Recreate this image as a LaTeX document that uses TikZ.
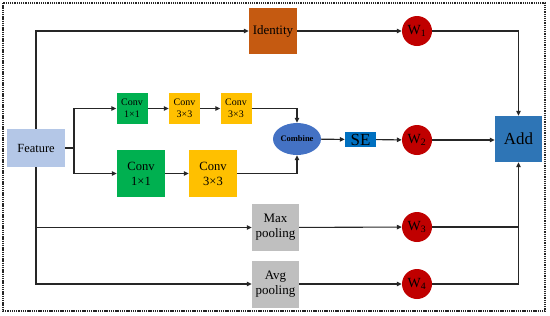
\documentclass[tikz,border=0pt]{standalone}
\usepackage{fontspec}
\setmainfont{Liberation Serif}
\usetikzlibrary{arrows.meta,shapes.geometric}
\definecolor{featc}{HTML}{B4C7E7}
\definecolor{idenc}{HTML}{C55A11}
\definecolor{greenc}{HTML}{00B050}
\definecolor{yelc}{HTML}{FFC000}
\definecolor{combc}{HTML}{4472C4}
\definecolor{sec}{HTML}{0070C0}
\definecolor{wc}{HTML}{C00000}
\definecolor{addc}{HTML}{2E75B6}
\definecolor{grayc}{HTML}{BFBFBF}
\definecolor{linec}{HTML}{262626}
\tikzset{
  box/.style={rectangle,inner sep=0pt,align=center,text=black},
  smallconv/.style={box,minimum width=31bp,minimum height=31bp,font=\fontsize{10}{12}\selectfont},
  bigconv/.style={box,minimum width=48bp,minimum height=47bp,font=\fontsize{12.6}{15}\selectfont},
  wnode/.style={circle,fill=wc,minimum size=30bp,inner sep=0pt,font=\fontsize{14}{16}\selectfont},
  poolbox/.style={box,fill=grayc,minimum width=47bp,minimum height=47bp,font=\fontsize{13}{15}\selectfont},
  conn/.style={draw=linec,line width=1.1bp},
  arr/.style={conn,-{Triangle[length=5bp,width=4.5bp]}},
}
\begin{document}
\begin{tikzpicture}[x=1bp,y=-1bp]
\useasboundingbox (0,0) rectangle (550,315);
\draw[line width=1.4bp,dash pattern=on 1.3bp off 0.9bp,draw=black!85] (3,3) rectangle (545,311);

\node[box,fill=featc,minimum width=58bp,minimum height=38bp,font=\fontsize{12.5}{15}\selectfont] (feat) at (36,148) {Feature};
\node[box,fill=idenc,minimum width=48bp,minimum height=46bp,font=\fontsize{13}{15}\selectfont] (iden) at (273,31) {Identity};
\node[smallconv,fill=greenc] (c1s) at (132,108.5) {Conv\\1×1};
\node[smallconv,fill=yelc] (c2s) at (184.5,108.5) {Conv\\3×3};
\node[smallconv,fill=yelc] (c3s) at (236,108.5) {Conv\\3×3};
\node[bigconv,fill=greenc] (c1b) at (141,173.5) {Conv\\1×1};
\node[bigconv,fill=yelc] (c2b) at (213,173.5) {Conv\\3×3};
\node[ellipse,fill=combc,minimum width=48bp,minimum height=32bp,inner sep=0pt,font=\fontsize{8.5}{10}\selectfont\bfseries] (comb) at (297,139) {Combine};
\node[box,fill=sec,minimum width=31bp,minimum height=15bp,font=\fontsize{17}{17}\selectfont] (se) at (360.5,139.5) {SE};
\node[wnode] (w1) at (417,31) {W\textsubscript{1}};
\node[wnode] (w2) at (417,140) {W\textsubscript{2}};
\node[wnode] (w3) at (417,227) {W\textsubscript{3}};
\node[wnode] (w4) at (417,284) {W\textsubscript{4}};
\node[box,fill=addc,minimum width=47bp,minimum height=46bp,font=\fontsize{17}{19}\selectfont] (add) at (518.5,139) {Add};
\node[poolbox] (maxp) at (275.5,227.5) {Max\\pooling};
\node[poolbox] (avgp) at (275.5,284) {Avg\\pooling};

\coordinate (sp) at (74,148);
\coordinate (jm) at (feat.south |- maxp.west);
\coordinate (j3) at (add.south |- w3.east);

\draw[arr] (feat.north) |- (iden.west);
\draw[arr] (feat.south) |- (avgp.west);
\draw[arr] (jm) -- (maxp.west);
\draw[conn] (feat.east) -- (sp);
\draw[arr] (sp) |- (c1s.west);
\draw[arr] (sp) |- (c1b.west);
\draw[arr] (c1s) -- (c2s);
\draw[arr] (c2s) -- (c3s);
\draw[arr] (c3s.east) -| (comb.north);
\draw[arr] (c1b) -- (c2b);
\draw[arr] (c2b.east) -| (comb.south);
\draw[arr] (comb) -- (se);
\draw[arr] (se) -- (w2);
\draw[arr] (iden) -- (w1);
\draw[arr] (maxp) -- (w3);
\draw[arr] (avgp) -- (w4);
\draw[arr] (w1.east) -| (add.north);
\draw[arr] (w2.east) -- (add.west |- w2.east);
\draw[conn] (w3.east) -- (j3);
\draw[arr] (w4.east) -| (add.south);
\end{tikzpicture}
\end{document}
